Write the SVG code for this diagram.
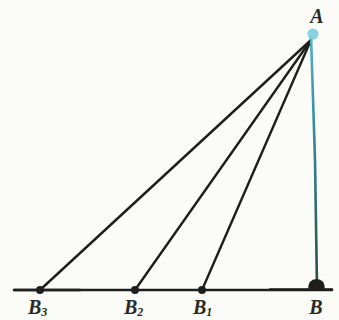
<svg xmlns="http://www.w3.org/2000/svg" width="339" height="320" viewBox="0 0 339 320">
<defs>
<style>
.ln{stroke:#1e1e1c;stroke-width:2.4;fill:none;stroke-linecap:round}
.pt{fill:#1e1e1c}
.lb{font-family:"Liberation Serif","Times New Roman",serif;font-style:italic;font-weight:bold;fill:#2a2a28}
.sub{font-size:12px}
</style>
<linearGradient id="g" x1="0" y1="0" x2="0" y2="1">
<stop offset="0" stop-color="#4fb0c8"/>
<stop offset="0.5" stop-color="#2f7f8c"/>
<stop offset="1" stop-color="#2b4a40"/>
</linearGradient>
</defs>
<rect width="339" height="320" fill="#fbfbf8"/>
<g id="connectors">
<line class="ln" x1="14" y1="290" x2="332" y2="290" stroke-width="2"/>
<line class="ln" x1="14" y1="290" x2="80" y2="290" stroke-width="3"/>
<line class="ln" x1="270" y1="289.5" x2="332" y2="289.5" stroke-width="3"/>
<line class="ln" x1="311" y1="40" x2="40" y2="290"/>
<line class="ln" x1="311" y1="40" x2="135" y2="290"/>
<line class="ln" x1="311" y1="40" x2="202" y2="290"/>
<path d="M311,36 L315,160 L317,288" stroke="url(#g)" stroke-width="2.6" fill="none"/>
</g>
<g id="A">
<circle cx="313" cy="34" r="5.5" fill="#7ccde0" opacity="0.9"/>
<text class="lb" x="317" y="23" font-size="20" text-anchor="middle">A</text>
</g>
<g id="B">
<path d="M308,290 Q308,279 316.5,279 Q325,279 325,290 Z" class="pt"/>
<text class="lb" x="316" y="314" font-size="20" text-anchor="middle">B</text>
</g>
<g id="B1">
<circle cx="202" cy="290" r="4" class="pt"/>
<text class="lb" x="193" y="314" font-size="20">B<tspan class="sub" dy="2">1</tspan></text>
</g>
<g id="B2">
<circle cx="135" cy="290" r="4" class="pt"/>
<text class="lb" x="124" y="314" font-size="20">B<tspan class="sub" dy="2">2</tspan></text>
</g>
<g id="B3">
<circle cx="40" cy="290" r="4" class="pt"/>
<text class="lb" x="28" y="314" font-size="20">B<tspan class="sub" dy="2">3</tspan></text>
</g>
</svg>
